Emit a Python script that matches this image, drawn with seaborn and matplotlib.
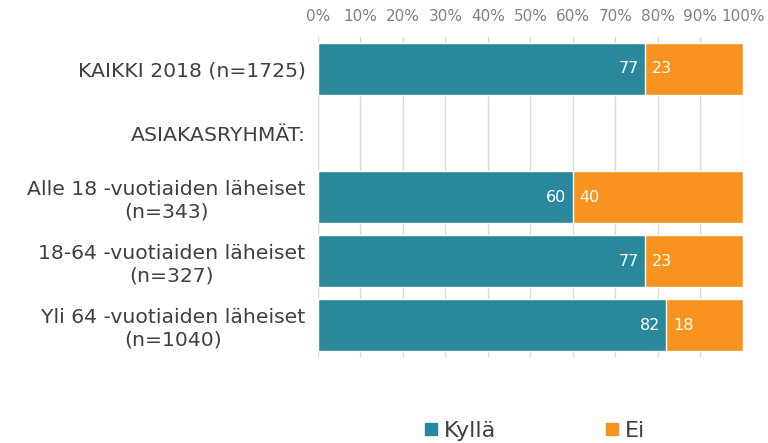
import numpy as np
import pandas as pd
import seaborn as sns
import matplotlib.pyplot as plt
from matplotlib.lines import Line2D

categories = ['KAIKKI 2018 (n=1725)', 'ASIAKASRYHMÄT:',
              'Alle 18 -vuotiaiden läheiset\n(n=343)',
              '18-64 -vuotiaiden läheiset\n(n=327)',
              'Yli 64 -vuotiaiden läheiset\n(n=1040)']
kylla = [77, np.nan, 60, 77, 82]
ei = [23, np.nan, 40, 23, 18]

teal = '#2A889D'
orange = '#F7931E'

sns.set_theme(style='white')
plt.rcParams['font.family'] = ['DejaVu Sans']

df = pd.DataFrame({'cat': categories, 'Kyllä': kylla, 'Ei': ei})
df['total'] = df['Kyllä'] + df['Ei']

fig = plt.figure(figsize=(7.68, 4.43), dpi=100)
ax = fig.add_axes([0.414, 0.194, 0.5534, 0.7225])

sns.barplot(data=df, x='total', y='cat', order=categories, color=orange,
            width=0.8, saturation=1, edgecolor='white', linewidth=1, ax=ax)
sns.barplot(data=df, x='Kyllä', y='cat', order=categories, color=teal,
            width=0.8, saturation=1, edgecolor='white', linewidth=1, ax=ax)

# value labels
for i, (k, e) in enumerate(zip(kylla, ei)):
    if np.isnan(k):
        continue
    ax.text(k - 1.5, i, f'{k:.0f}', color='white', ha='right', va='center', fontsize=11.5)
    ax.text(k + 1.5, i, f'{e:.0f}', color='white', ha='left', va='center', fontsize=11.5)

ax.set_xlim(0, 100)
ax.set_ylim(4.5, -0.5)
ax.set_xticks(range(0, 101, 10))
ax.set_xticklabels([f'{v}%' for v in range(0, 101, 10)])
ax.xaxis.tick_top()
ax.tick_params(axis='x', colors='#808080', labelsize=11, length=0, pad=9)
ax.tick_params(axis='y', colors='#404040', labelsize=14.7, length=0, pad=9)
for t in ax.get_yticklabels():
    t.set_multialignment('center')
    t.set_color('#404040')
ax.grid(axis='x', color='#D9D9D9', linewidth=1)
ax.set_axisbelow(True)
for s in ax.spines.values():
    s.set_visible(False)
ax.set_xlabel('')
ax.set_ylabel('')

handles = [Line2D([], [], marker='s', linestyle='', color=teal, markersize=8),
           Line2D([], [], marker='s', linestyle='', color=orange, markersize=8)]
fig.legend(handles, ['Kyllä', 'Ei'], loc='lower center', bbox_to_anchor=(0.695, -0.04),
           ncol=2, frameon=False, fontsize=16, handlelength=0.8, handletextpad=0.2,
           columnspacing=4.8, labelcolor='#404040')

fig.savefig('out.png', dpi=100)
